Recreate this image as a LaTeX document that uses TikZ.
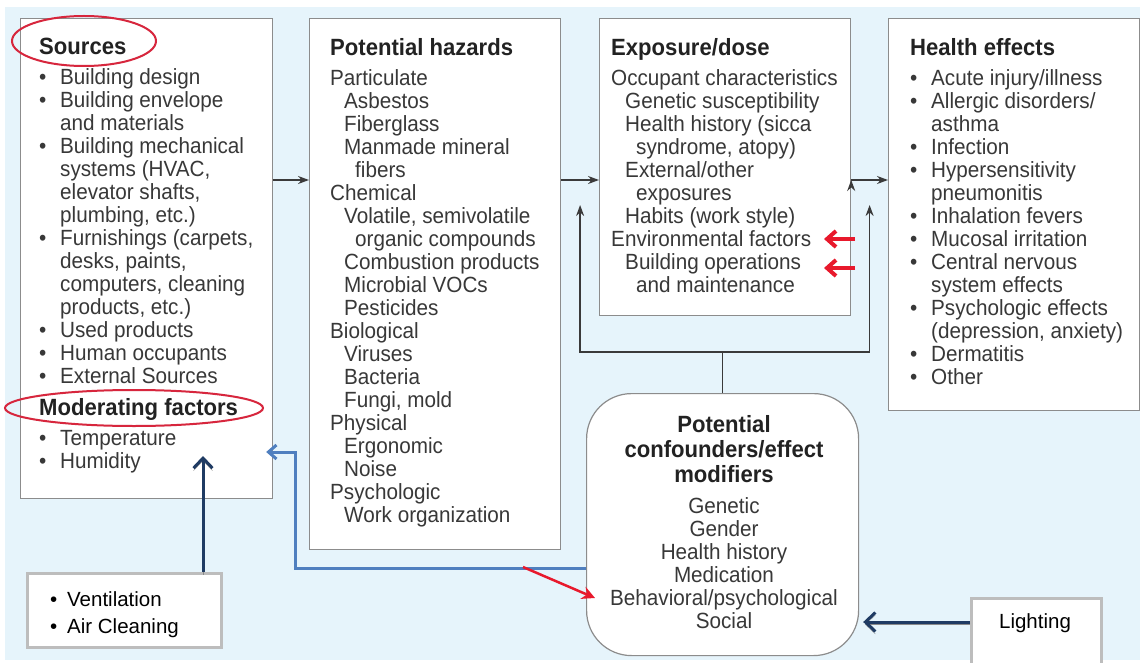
\documentclass[tikz,border=0pt]{standalone}
\usepackage{fontspec}
\usepackage{tikz}
\usetikzlibrary{arrows.meta,calc,positioning}
\newfontfamily\condfont[FakeStretch=0.94]{Liberation Sans}
\newfontfamily\plainfont{Liberation Sans}
\definecolor{bgblue}{HTML}{E6F4FB}
\definecolor{panelgray}{HTML}{8C8C8C}
\definecolor{bodygray}{HTML}{383838}
\definecolor{titlegray}{HTML}{222222}
\definecolor{linkgray}{HTML}{3A3A3A}
\definecolor{ringred}{HTML}{D7263D}
\definecolor{hotred}{HTML}{E8192C}
\definecolor{navy}{HTML}{1F3B63}
\definecolor{steel}{HTML}{4F7FBF}
\definecolor{framegray}{HTML}{BDBDBD}
\definecolor{shadowgray}{HTML}{8A8A8A}
\newcommand{\ttl}{\bfseries\color{titlegray}\fontsize{23.5}{23}\selectfont}
\newcommand{\bul}{\makebox[21pt][l]{\textbullet}}
\newcommand{\ind}{\hspace*{21pt}}
\newcommand{\inA}{\hspace*{14pt}}
\newcommand{\inB}{\hspace*{25pt}}
\tikzset{
  panel/.style={draw=panelgray,fill=white,line width=1.2pt,anchor=north west,inner sep=0pt},
  body/.style={anchor=north west,inner sep=0pt,align=left,text=bodygray,
    font=\condfont\fontsize{22}{23}\selectfont},
  note/.style={draw=framegray,fill=white,line width=3pt,anchor=north west,inner sep=0pt},
  link/.style={draw=linkgray,line width=1.6pt,>={Stealth[length=11pt,width=8pt]}},
  ring/.style={draw=ringred,line width=2pt},
  navyline/.style={draw=navy,line width=3pt,-{Straight Barb[length=10pt,width=19pt]},
    preaction={draw=shadowgray,transform canvas={yshift=-2.5pt}}},
  bluearrow/.style={draw=steel,line width=3pt,-{Straight Barb[length=8pt,width=14pt]}},
  redarrow/.style={draw=hotred,line width=2.5pt,-{Stealth[length=13pt,width=13pt]}},
  redmark/.style={draw=hotred,line width=4pt,-{Straight Barb[length=9pt,width=16pt]}}
}
\begin{document}
\begin{tikzpicture}[x=1pt,y=-1pt]
\useasboundingbox (0,0) rectangle (1140,663);
\fill[bgblue] (5,7) rectangle (1140,660);

\node[panel,minimum width=252pt,minimum height=480pt] (src) at (20,18) {};
\node[panel,minimum width=251pt,minimum height=531pt] (haz) at (309,18) {};
\node[panel,minimum width=251pt,minimum height=297pt] (expo) at (599,18) {};
\node[panel,minimum width=251pt,minimum height=392pt] (hlth) at (888,18) {};
\node[panel,rounded corners=45pt,minimum width=272pt,minimum height=262pt] (conf) at (586,393) {};
\node[note,minimum width=194pt,minimum height=74pt] (vent) at (26,572) {};
\node[note,minimum width=130pt,minimum height=90pt] (light) at (970,597) {};

\node[body] (srctext) at (39,38) {{\ttl Sources}\\[7pt]
\bul Building design\\
\bul Building envelope\\
\ind and materials\\
\bul Building mechanical\\
\ind systems (HVAC,\\
\ind elevator shafts,\\
\ind plumbing, etc.)\\
\bul Furnishings (carpets,\\
\ind desks, paints,\\
\ind computers, cleaning\\
\ind products, etc.)\\
\bul Used products\\
\bul Human occupants\\
\bul External Sources\\[9pt]
{\ttl Moderating factors}\\[7pt]
\bul Temperature\\
\bul Humidity};

\node[body] (haztext) at (330,38) {{\ttl Potential hazards}\\[7pt]
Particulate\\
\inA Asbestos\\
\inA Fiberglass\\
\inA Manmade mineral\\
\inB fibers\\
Chemical\\
\inA Volatile, semivolatile\\
\inB organic compounds\\
\inA Combustion products\\
\inA Microbial VOCs\\
\inA Pesticides\\
Biological\\
\inA Viruses\\
\inA Bacteria\\
\inA Fungi, mold\\
Physical\\
\inA Ergonomic\\
\inA Noise\\
Psychologic\\
\inA Work organization};

\node[body] (expotext) at (611,38) {{\ttl Exposure/dose}\\[7pt]
Occupant characteristics\\
\inA Genetic susceptibility\\
\inA Health history (sicca\\
\inB syndrome, atopy)\\
\inA External/other\\
\inB exposures\\
\inA Habits (work style)\\
Environmental factors\\
\inA Building operations\\
\inB and maintenance};

\node[body] (hlthtext) at (910,38) {{\ttl Health effects}\\[7pt]
\bul Acute injury/illness\\
\bul Allergic disorders/\\
\ind asthma\\
\bul Infection\\
\bul Hypersensitivity\\
\ind pneumonitis\\
\bul Inhalation fevers\\
\bul Mucosal irritation\\
\bul Central nervous\\
\ind system effects\\
\bul Psychologic effects\\
\ind (depression, anxiety)\\
\bul Dermatitis\\
\bul Other};

\node[body,anchor=north,align=center] (conftext) at (724,415) {{\ttl Potential}\\[2pt]
{\ttl confounders/effect}\\[2pt]
{\ttl modifiers}\\[8pt]
Genetic\\
Gender\\
Health history\\
Medication\\
Behavioral/psychological\\
Social};

\begin{scope}
\clip (vent.north west) rectangle ([yshift=12pt]vent.south east);
\node[anchor=north west,inner sep=0pt,align=left,font=\plainfont\fontsize{20.5}{27}\selectfont]
  (venttext) at (50,591) {\makebox[17pt][l]{\textbullet}Ventilation\\
\makebox[17pt][l]{\textbullet}Air Cleaning};
\end{scope}
\node[anchor=north,inner sep=0pt,font=\plainfont\fontsize{20.5}{27}\selectfont]
  (lighttext) at (1035,613) {Lighting};

% main flow
\coordinate (mainrow) at (0,180);
\path[link,->]
(src.east |- mainrow) edge (haz.west |- mainrow)
(haz.east |- mainrow) edge (expo.west |- mainrow)
(expo.east |- mainrow) edge (hlth.west |- mainrow);

% confounders feed back into exposure and health
\coordinate (forkrow) at (0,352);
\coordinate (gapL) at ($(haz.north east)!.5!(expo.north west)$);
\coordinate (gapR) at ($(expo.north east)!.5!(hlth.north west)$);
\draw[link] (conf.north) -- (conf.north |- forkrow);
\draw[link,->] (conf.north |- forkrow) -| ([yshift=-25pt]gapL |- mainrow);
\draw[link,->] (conf.north |- forkrow) -| ([yshift=-25pt]gapR |- mainrow);

% added annotations
\draw[ring] (84,41) ellipse [x radius=72pt, y radius=25pt];
\draw[ring] (134,408) ellipse [x radius=129pt, y radius=18pt];

\coordinate (ventup) at (203,456);
\draw[navyline] (vent.north -| ventup) -- (ventup);
\draw[navyline] (light.west |- 0,622) -- ([xshift=4pt]conf.east |- 0,622);

\coordinate (bluerow) at (0,568);
\coordinate (bluebend) at (295,452);
\draw[bluearrow] (conf.west |- bluerow) -| (bluebend) -- ([xshift=-7pt]src.east |- bluebend);

\coordinate (redtail) at (523,567);
\coordinate (redtip) at (595,598);
\draw[redarrow] (redtail) -- (redtip);

\coordinate (envtip) at (824,239);
\coordinate (opstip) at (824,268);
\draw[redmark] ([xshift=31pt]envtip) -- (envtip);
\draw[redmark] ([xshift=31pt]opstip) -- (opstip);
\end{tikzpicture}
\end{document}
